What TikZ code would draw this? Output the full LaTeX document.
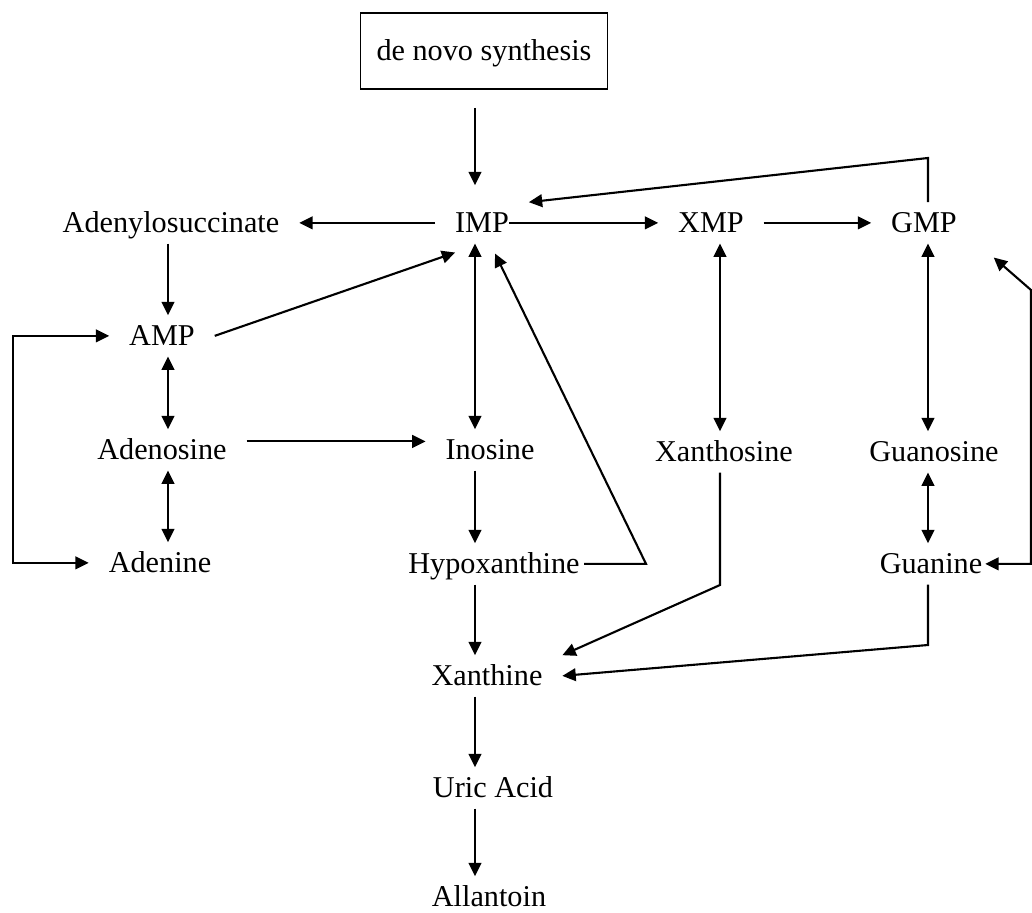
\documentclass[tikz,border=0pt]{standalone}
\usepackage{fontspec}
\setmainfont{Liberation Serif}
\usetikzlibrary{positioning,calc,arrows.meta}
\tikzset{>={Triangle[length=9.5pt,width=9pt]}}
\tikzset{
  met/.style={anchor=base,inner xsep=14pt,inner ysep=6pt,text height=15pt,text depth=2pt,font=\fontsize{21.5}{26}\selectfont},
  flow/.style={line width=1.5pt}
}

\begin{document}
\begin{tikzpicture}[x=0.025cm,y=-0.025cm]
\useasboundingbox (0,0) rectangle (1032,913);
% Pixel grid, y runs downwards

% Columns of the vertical arrows
\coordinate (colA) at (168,0);
\coordinate (colI) at (475,0);
\coordinate (colX) at (720,0);
\coordinate (colG) at (928,0);

% Turning points of the bent arrows
\coordinate (gTop) at (928,158);
\coordinate (hTurn) at (646,0);
\coordinate (xTurn) at (720,585);
\coordinate (gTurn) at (928,645);
\coordinate (rTop) at (1031,290);
\coordinate (loopL) at (13,450);

% Metabolites
\node [draw,line width=1pt,minimum width=176pt,minimum height=54pt,text height=15pt,text depth=2pt,font=\fontsize{21.5}{26}\selectfont] (denovo) at (484,51) {de novo synthesis};
\node [met] (IMP) at (482,232) {IMP};
\node [met] (XMP) at (711,232) {XMP};
\node [met] (GMP) at (924,232) {GMP};
\node [met] (Adenylosuccinate) at (171,232) {Adenylosuccinate};
\node [met] (AMP) at (162,345) {AMP};
\node [met] (Adenosine) at (162,459) {Adenosine};
\node [met] (Inosine) at (490,459) {Inosine};
\node [met] (Xanthosine) at (724,461) {Xanthosine};
\node [met] (Guanosine) at (934,461) {Guanosine};
\node [met] (Adenine) at (160,572) {Adenine};
\node [met] (Hypoxanthine) at (494,573) {Hypoxanthine};
\node [met] (Guanine) at (931,573) {Guanine};
\node [met] (Xanthine) at (487,685) {Xanthine};
\node [met] (UricAcid) at (493,797) {Uric Acid};
\node [met] (Allantoin) at (489,906) {Allantoin};

% Vertical arrows
\draw [flow,->,shorten <=13pt,shorten >=12pt] (denovo.south -| colI) -- (IMP.north -| colI);
\draw [flow,->] (Adenylosuccinate.south -| colA) -- (AMP.north -| colA);
\draw [flow,<->] (AMP.south -| colA) -- (Adenosine.north -| colA);
\draw [flow,<->] (Adenosine.south -| colA) -- (Adenine.north -| colA);
\draw [flow,<->] (IMP.south -| colI) -- (Inosine.north -| colI);
\draw [flow,->] (Inosine.south -| colI) -- (Hypoxanthine.north -| colI);
\draw [flow,->] (Hypoxanthine.south -| colI) -- (Xanthine.north -| colI);
\draw [flow,->] (Xanthine.south -| colI) -- (UricAcid.north -| colI);
\draw [flow,->] (UricAcid.south -| colI) -- (Allantoin.north -| colI);
\draw [flow,<->] (XMP.south -| colX) -- (Xanthosine.north -| colX);
\draw [flow,<->] (GMP.south -| colG) -- (Guanosine.north -| colG);
\draw [flow,<->] (Guanosine.south -| colG) -- (Guanine.north -| colG);

% Horizontal arrows
\draw [flow,->] (IMP.west) -- (Adenylosuccinate.east);
\draw [flow,->,shorten <=-14pt] (IMP.east) -- (XMP.west);
\draw [flow,->] (XMP.east) -- (GMP.west);
\draw [flow,->] ([yshift=6pt]Adenosine.east) -- ([yshift=6pt]Inosine.west);

% Bent and slanted arrows
\draw [flow,->] (GMP.north -| colG) -- (gTop) -- (IMP.north east);
\draw [flow,->] (AMP.east) -- ($(IMP.south west)+(20,9)$);
\draw [flow,->,shorten <=-11pt] (Hypoxanthine.east) -- (Hypoxanthine.east -| hTurn) -- ($(IMP.south)+(13,10)$);
\draw [flow,->] (Xanthosine.south -| colX) -- (xTurn) -- (Xanthine.north east);
\draw [flow,->] (Guanine.south -| colG) -- (gTurn) -- (Xanthine.east);
\draw [flow,<->,shorten >=-12pt] ($(GMP.south east)+(17,14)$) -- (rTop) -- (Guanine.east -| rTop) -- (Guanine.east);
\draw [flow,<->] (AMP.west) -| (loopL) |- (Adenine.west);

\end{tikzpicture}
\end{document}
